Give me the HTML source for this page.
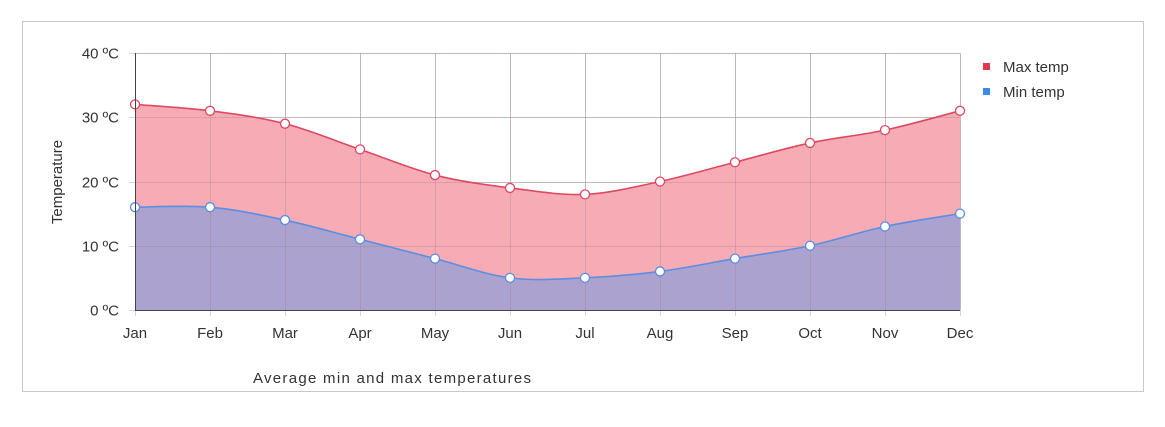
<!DOCTYPE html>
<html><head><meta charset="utf-8"><style>
body{margin:0;background:#fff;width:1165px;height:422px;overflow:hidden}
svg{font-family:"Liberation Sans",sans-serif}
</style></head><body>
<svg id="s" width="1165" height="422" xmlns="http://www.w3.org/2000/svg">
<rect x="22.5" y="21.5" width="1121" height="370" fill="#fff" stroke="#c8c8c8"/>
<g id="grid" stroke="#d6d6d6" stroke-width="1"></g>
<path id="maxA" fill="#f7abb5"/>
<path id="minA" fill="#aca2d0"/>
<g id="grid2" stroke="#a08090" stroke-opacity="0.35" stroke-width="1"></g>
<path id="maxL" fill="none" stroke="#dc4a62" stroke-width="1.6"/>
<path id="minL" fill="none" stroke="#5a8ee0" stroke-width="1.6"/>
<g id="pts"></g>
<line x1="135.5" y1="53" x2="135.5" y2="310" stroke="#444"/>
<line x1="135" y1="310.5" x2="960" y2="310.5" stroke="#444"/>
<g id="lab" font-size="15" fill="#333"></g>
<text transform="translate(62,182) rotate(-90)" text-anchor="middle" font-size="15" fill="#333">Temperature</text>
<text x="392" y="383" text-anchor="middle" font-size="15" fill="#333" textLength="278">Average min and max temperatures</text>
<rect x="983" y="63" width="7" height="7" fill="#e03a4e"/>
<text x="1003" y="72" font-size="15" fill="#333">Max temp</text>
<rect x="983" y="88" width="7" height="7" fill="#3d8ae6"/>
<text x="1003" y="97" font-size="15" fill="#333">Min temp</text>
</svg>
<script>
var mx=[32,31,29,25,21,19,18,20,23,26,28,31],mn=[16,16,14,11,8,5,5,6,8,10,13,15];
var M=['Jan','Feb','Mar','Apr','May','Jun','Jul','Aug','Sep','Oct','Nov','Dec'];
function X(i){return 135+75*i}function Y(v){return 310-6.425*v}
var ns="http://www.w3.org/2000/svg",g=document.getElementById('grid'),g2=document.getElementById('grid2'),lab=document.getElementById('lab'),pts=document.getElementById('pts');
function el(p,t,a,txt){var e=document.createElementNS(ns,t);for(var k in a)e.setAttribute(k,a[k]);if(txt)e.textContent=txt;p.appendChild(e);return e}
for(var i=0;i<12;i++){el(g,'line',{x1:X(i)+.5,x2:X(i)+.5,y1:53,y2:316});el(g2,'line',{x1:X(i)+.5,x2:X(i)+.5,y1:53,y2:310});el(lab,'text',{x:X(i),y:338,'text-anchor':'middle'},M[i]);}
for(var v=0;v<=40;v+=10){var y=Math.round(Y(v))+.5;el(g,'line',{x1:129,x2:960,y1:y,y2:y});el(g2,'line',{x1:135,x2:960,y1:y,y2:y});el(lab,'text',{x:119,y:y+5,'text-anchor':'end'},v+' ºC');}
function curve(a){var p=a.map(function(v,i){return[X(i),Y(v)]});var d='M'+p[0];for(var i=0;i<p.length-1;i++){var p0=p[i-1]||p[i],p1=p[i],p2=p[i+1],p3=p[i+2]||p2,t=6;d+=' C'+(p1[0]+(p2[0]-p0[0])/t)+','+(p1[1]+(p2[1]-p0[1])/t)+' '+(p2[0]-(p3[0]-p1[0])/t)+','+(p2[1]-(p3[1]-p1[1])/t)+' '+p2[0]+','+p2[1];}return d}
var a=curve(mx),b=curve(mn),c=' L960,310 L135,310 Z';
document.getElementById('maxA').setAttribute('d',a+c);document.getElementById('minA').setAttribute('d',b+c);
document.getElementById('maxL').setAttribute('d',a);document.getElementById('minL').setAttribute('d',b);
for(var i=0;i<12;i++){el(pts,'circle',{cx:X(i),cy:Y(mx[i]),r:4.5,fill:'#fff',stroke:'#dc4a62','stroke-width':1.3});el(pts,'circle',{cx:X(i),cy:Y(mn[i]),r:4.5,fill:'#fff',stroke:'#5a8ee0','stroke-width':1.3});}
</script>
</body></html>
